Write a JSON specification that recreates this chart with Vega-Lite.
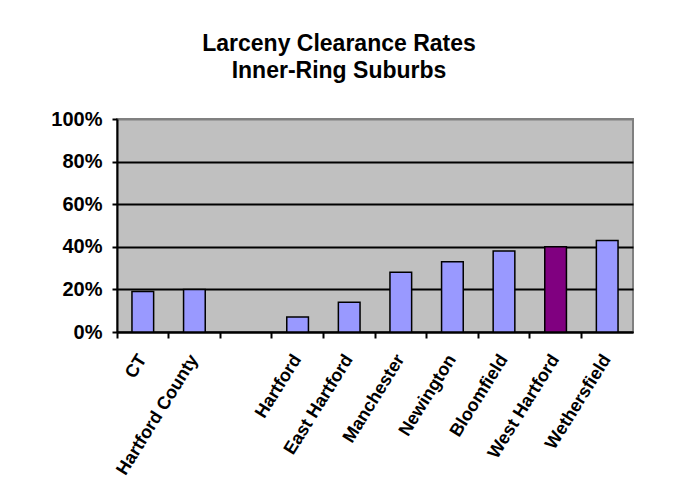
{
  "$schema": "https://vega.github.io/schema/vega-lite/v6.json",
  "autosize": {"type": "none"},
  "width": 516,
  "height": 213,
  "padding": {"left": 117, "top": 119, "right": 42, "bottom": 157},
  "background": "white",
  "title": {
    "text": ["Larceny Clearance Rates", "Inner-Ring Suburbs"],
    "font": "Liberation Sans",
    "fontSize": 23,
    "fontWeight": "bold",
    "color": "black",
    "anchor": "middle",
    "dx": -36,
    "offset": 26,
    "lineHeight": 27
  },
  "config": {
    "view": {"fill": "#C0C0C0", "stroke": "#808080", "strokeWidth": 2}
  },
  "data": {
    "values": [
      {"area": "CT", "rate": 0.19},
      {"area": "Hartford County", "rate": 0.20},
      {"area": "Hartford", "rate": 0.07},
      {"area": "East Hartford", "rate": 0.14},
      {"area": "Manchester", "rate": 0.28},
      {"area": "Newington", "rate": 0.33},
      {"area": "Bloomfield", "rate": 0.38},
      {"area": "West Hartford", "rate": 0.40},
      {"area": "Wethersfield", "rate": 0.43}
    ]
  },
  "resolve": {"axis": {"x": "independent"}},
  "layer": [
    {
      "mark": {"type": "bar", "stroke": "black", "strokeWidth": 1.5, "width": {"band": 0.42}},
      "encoding": {
        "x": {
          "field": "area",
          "type": "nominal",
          "sort": null,
          "scale": {
            "domain": ["CT", "Hartford County", " ", "Hartford", "East Hartford", "Manchester", "Newington", "Bloomfield", "West Hartford", "Wethersfield"],
            "paddingInner": 0,
            "paddingOuter": 0
          },
          "axis": {
            "orient": "bottom",
            "title": null,
            "ticks": false,
            "domain": true,
            "domainColor": "black",
            "domainWidth": 2,
            "grid": false,
            "labelAngle": -58,
            "labelAlign": "right",
            "labelBaseline": "middle",
            "labelPadding": 24,
            "labelFont": "Liberation Sans",
            "labelFontSize": 18,
            "labelFontWeight": "bold",
            "labelColor": "black",
            "labelOverlap": false
          }
        },
        "y": {
          "field": "rate",
          "type": "quantitative",
          "scale": {"domain": [0, 1], "nice": false},
          "axis": {
            "title": null,
            "values": [0, 0.2, 0.4, 0.6, 0.8, 1],
            "format": ".0%",
            "domainColor": "black",
            "domainWidth": 2,
            "tickColor": "black",
            "tickWidth": 2,
            "tickSize": 5,
            "labelPadding": 10,
            "labelFont": "Liberation Sans",
            "labelFontSize": 20,
            "labelFontWeight": "bold",
            "labelColor": "black",
            "grid": true,
            "gridWidth": 2,
            "gridColor": {"condition": {"test": "datum.value === 1", "value": "#808080"}, "value": "black"}
          }
        },
        "color": {
          "condition": {"test": "datum.area === 'West Hartford'", "value": "#800080"},
          "value": "#9999FF"
        }
      }
    },
    {
      "mark": {"type": "rule", "opacity": 0},
      "encoding": {
        "x": {
          "field": "area",
          "type": "nominal",
          "sort": null,
          "axis": {
            "orient": "bottom",
            "title": null,
            "labels": false,
            "domain": false,
            "grid": false,
            "ticks": true,
            "bandPosition": 0,
            "tickColor": "black",
            "tickWidth": 2,
            "tickSize": 6
          }
        }
      }
    }
  ]
}
